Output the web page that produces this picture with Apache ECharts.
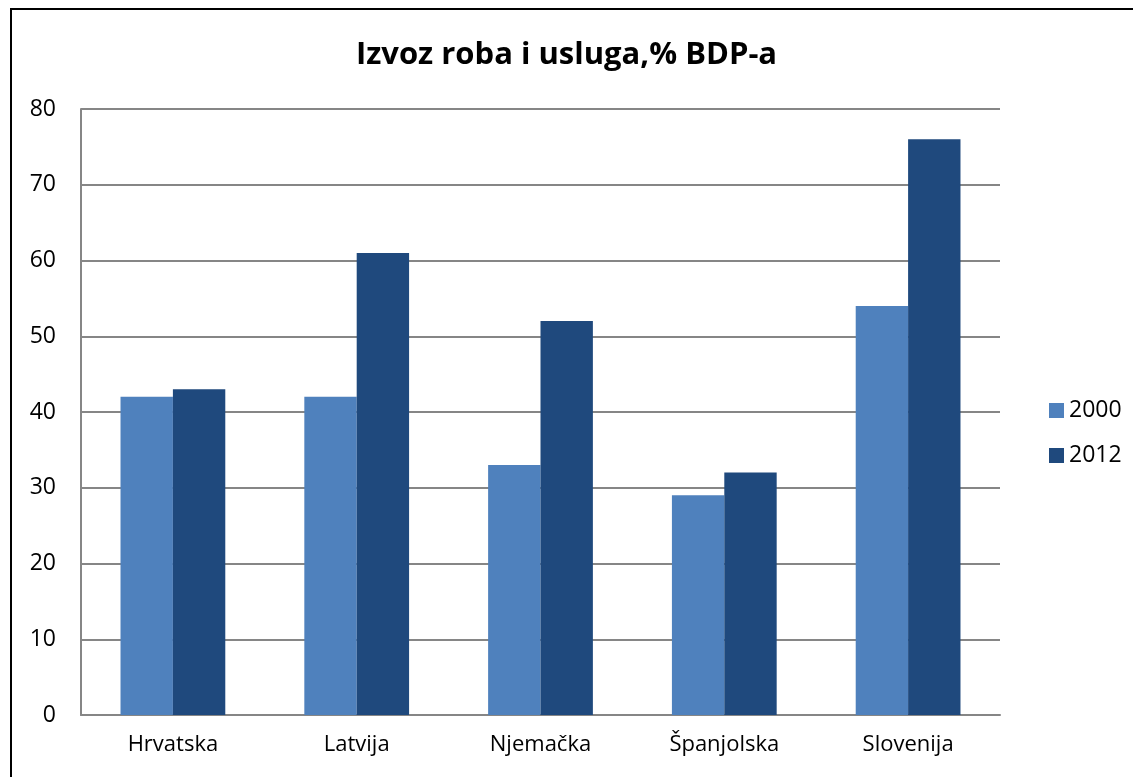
<!DOCTYPE html>
<html>
<head>
<meta charset="utf-8">
<script src="https://cdn.jsdelivr.net/npm/echarts@6/dist/echarts.min.js"></script>
<style>
html,body{margin:0;padding:0;background:#fff;}
#chart{width:1133px;height:777px;}
</style>
</head>
<body>
<div id="chart"></div>
<script>
const categories = ['Hrvatska', 'Latvija', 'Njemačka', 'Španjolska', 'Slovenija'];
const values2000 = [42, 42, 33, 29, 54];
const values2012 = [43, 61, 52, 32, 76];
const seriesNames = ['2000', '2012'];
const titleText = 'Izvoz roba i usluga,% BDP-a';

const FONT = '"Open Sans", sans-serif';
const chart = echarts.init(document.getElementById('chart'), null, {renderer: 'canvas'});
chart.setOption({
  backgroundColor: '#fff',
  animation: false,
  title: {
    text: titleText,
    left: 'center',
    top: 35,
    textStyle: {fontFamily: FONT, fontSize: 31, fontWeight: 'bold', color: '#000'}
  },
  graphic: [{
    type: 'rect',
    shape: {x: 11, y: 9, width: 1200, height: 900},
    style: {fill: 'none', stroke: '#000', lineWidth: 2},
    silent: true
  }],
  legend: {
    orient: 'vertical',
    left: 1044,
    top: 394,
    itemWidth: 15,
    itemHeight: 15,
    itemGap: 22,
    icon: 'rect',
    textStyle: {fontFamily: FONT, fontSize: 23, color: '#000', padding: [0, 0, 0, 0]},
    data: seriesNames
  },
  grid: {left: 81, right: 133, top: 109, bottom: 62, containLabel: false},
  xAxis: {
    type: 'category',
    data: categories,
    axisLine: {lineStyle: {color: '#868686', width: 2}},
    axisTick: {show: false},
    axisLabel: {fontFamily: FONT, fontSize: 22, color: '#000', margin: 19}
  },
  yAxis: {
    type: 'value',
    min: 0,
    max: 80,
    interval: 10,
    axisLine: {show: true, lineStyle: {color: '#868686', width: 2}},
    axisTick: {show: false},
    splitLine: {lineStyle: {color: '#868686', width: 2}},
    axisLabel: {fontFamily: FONT, fontSize: 23, color: '#000', margin: 25}
  },
  series: [
    {name: seriesNames[0], type: 'bar', data: values2000, barGap: '0%', barCategoryGap: '43%',
     itemStyle: {color: '#4F81BD'}},
    {name: seriesNames[1], type: 'bar', data: values2012, barGap: '0%', barCategoryGap: '43%',
     itemStyle: {color: '#1F497D'}}
  ]
});
</script>
</body>
</html>
